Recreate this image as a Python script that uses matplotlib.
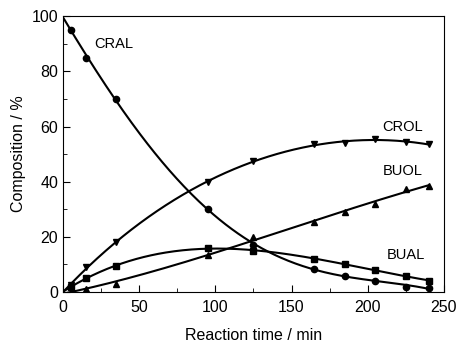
import numpy as np
import matplotlib.pyplot as plt
from matplotlib.ticker import MultipleLocator

plt.rcParams['font.family'] = ['Liberation Sans', 'DejaVu Sans']

t = [5, 15, 35, 95, 125, 165, 185, 205, 225, 240]
cral = [95, 85, 70, 30, 17, 8.5, 6, 4, 2, 1.5]
crol = [2.5, 9, 18, 40, 47.5, 53.5, 54, 55.5, 54.5, 53.5]
buol = [0, 1, 3, 13.5, 20, 25.5, 29, 32, 37.5, 38.5]
bual = [2, 5, 9.5, 16, 15, 12, 10, 8, 6, 4]

series = [("CRAL", cral, "o", 4), ("CROL", crol, "v", 4),
          ("BUOL", buol, "^", 3), ("BUAL", bual, "s", 3)]
labels = {"CRAL": (33, 90), "CROL": (223, 60), "BUOL": (223, 44), "BUAL": (225, 13.5)}

fig = plt.figure(figsize=(4.6, 3.44), dpi=100, facecolor='white')
ax = fig.add_axes([0.137, 0.151, 0.828, 0.802])

tt = np.linspace(0, 240, 300)
for name, y, m, deg in series:
    # smooth fitted curve through (0,start) and the measured points
    x0 = [0] + t
    y0 = ([100] if name == "CRAL" else [0]) + y
    p = np.polyfit(x0, y0, deg)
    ax.plot(tt, np.polyval(p, tt), color='black', lw=1.5)
    ax.plot(t, y, m, color='black', ms=4.5)
    ax.text(labels[name][0], labels[name][1], name, fontsize=10.5, ha='center', va='center')

ax.set_xlim(0, 250)
ax.set_ylim(0, 100)
ax.xaxis.set_major_locator(MultipleLocator(50))
ax.xaxis.set_minor_locator(MultipleLocator(25))
ax.yaxis.set_major_locator(MultipleLocator(20))
ax.yaxis.set_minor_locator(MultipleLocator(10))
ax.tick_params(which='both', direction='in', labelsize=11.5)
ax.tick_params(axis='x', pad=6)
ax.tick_params(which='major', length=5)
ax.tick_params(which='minor', length=3)
ax.set_xlabel("Reaction time / min", fontsize=11.5, labelpad=9)
ax.set_ylabel("Composition / %", fontsize=11.5)
fig.savefig("out.png")
